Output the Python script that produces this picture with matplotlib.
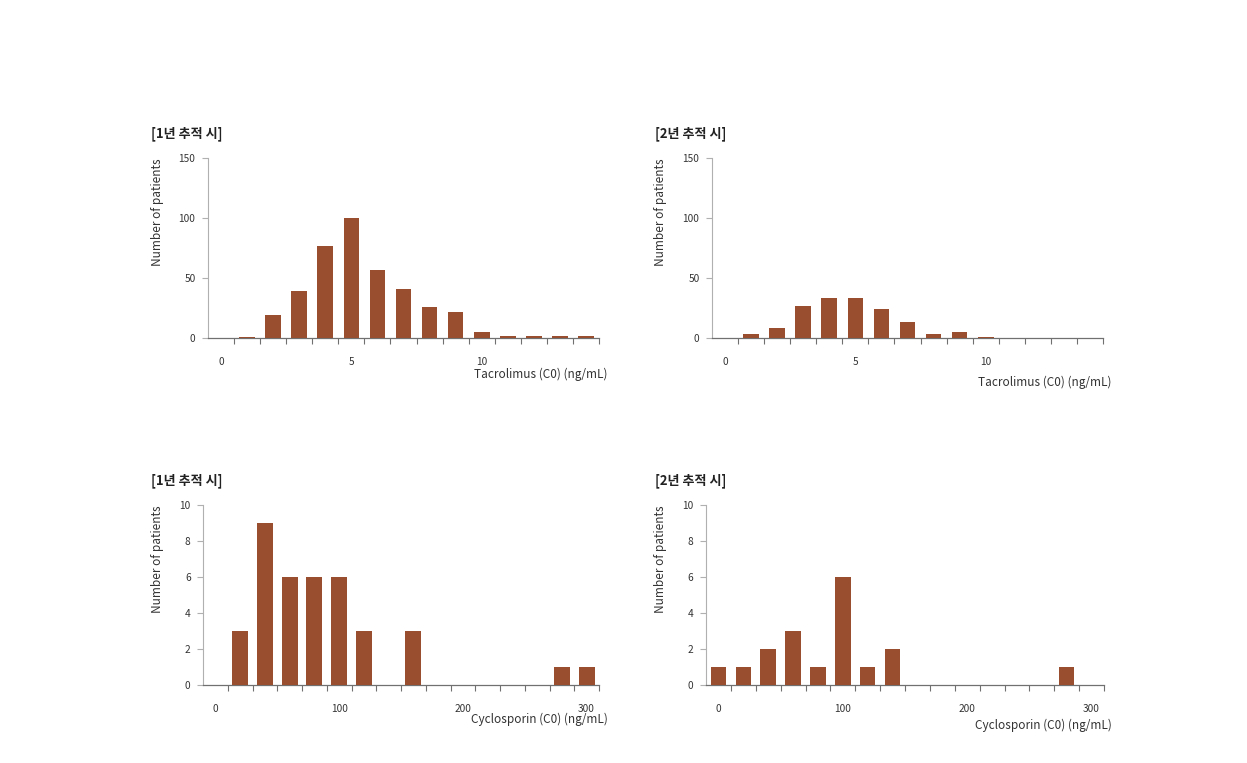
import matplotlib
matplotlib.use("Agg")
import matplotlib.pyplot as plt
from matplotlib.ticker import FixedLocator, NullFormatter

plt.rcParams['font.family'] = ['Noto Sans CJK KR', 'DejaVu Sans']

W, H = 1247, 763

# ---- data ----
tac_categories = list(range(0, 15))          # Tacrolimus C0 (ng/mL)
tac_labels = {0: "0", 5: "5", 10: "10"}
tac_year1 = [0, 1, 19, 39, 77, 100, 57, 41, 26, 22, 5, 2, 2, 2, 2]
tac_year2 = [0, 3, 8, 27, 33, 33, 24, 13, 3, 5, 1, 0, 0, 0, 0]

cyc_categories = list(range(0, 320, 20))     # Cyclosporin C0 (ng/mL)
cyc_labels = {0: "0", 100: "100", 200: "200", 300: "300"}
cyc_year1 = [0, 3, 9, 6, 6, 6, 3, 0, 3, 0, 0, 0, 0, 0, 1, 1]
cyc_year2 = [1, 1, 2, 3, 1, 6, 1, 2, 0, 0, 0, 0, 0, 0, 1, 0]

titles = ["[1년 추적 시]", "[2년 추적 시]"]
ylab = "Number of patients"
tac_xlab = "Tacrolimus (C0) (ng/mL)"
cyc_xlab = "Cyclosporin (C0) (ng/mL)"

BAR = "#994E2F"
AXY = "#b0b0b0"
AXX = "#707070"
TXT = "#333333"

fig = plt.figure(figsize=(W / 100, H / 100), dpi=100)
fig.patch.set_facecolor("white")


def px_axes(x0, x1, ytop, ybot):
    return fig.add_axes([x0 / W, 1 - ybot / H, (x1 - x0) / W, (ybot - ytop) / H])


def panel(rect, cats, labels, vals, ymax, ystep, title, title_xy, xlab, xlab_xy, ylab_xy, bw):
    ax = px_axes(*rect)
    n = len(cats)
    pos = list(range(n))
    ax.bar(pos, vals, width=bw, color=BAR, edgecolor="none", zorder=3)
    ax.set_xlim(-0.5, n - 0.5)
    ax.set_ylim(0, ymax)
    for s in ["top", "right"]:
        ax.spines[s].set_visible(False)
    ax.spines["left"].set_color(AXY)
    ax.spines["left"].set_linewidth(0.8)
    ax.spines["bottom"].set_color(AXX)
    ax.spines["bottom"].set_linewidth(0.9)
    ax.set_yticks(list(range(0, ymax + 1, ystep)))
    ax.tick_params(axis="y", direction="out", length=4, width=0.8, color=AXY,
                   labelsize=7.3, labelcolor=TXT, pad=5)
    # labelled categories
    lab_pos = [i for i, c in enumerate(cats) if c in labels]
    ax.set_xticks(lab_pos)
    ax.set_xticklabels([labels[cats[i]] for i in lab_pos])
    ax.tick_params(axis="x", which="major", length=0, labelsize=7.3, labelcolor=TXT, pad=14)
    # tick marks between categories
    ax.xaxis.set_minor_locator(FixedLocator([i + 0.5 for i in range(n)]))
    ax.xaxis.set_minor_formatter(NullFormatter())
    ax.tick_params(axis="x", which="minor", direction="out", length=4, width=0.8, color=AXX)
    fig.text(title_xy[0] / W, 1 - title_xy[1] / H, title, fontsize=9.4, fontweight="bold",
             color="#222222", ha="left", va="center")
    fig.text(xlab_xy[0] / W, 1 - xlab_xy[1] / H, xlab, fontsize=8.5, color=TXT,
             ha="right", va="center")
    fig.text(ylab_xy[0] / W, 1 - ylab_xy[1] / H, ylab, fontsize=8.5, color=TXT,
             rotation=90, ha="center", va="top")
    return ax


panel((208, 599, 158, 338), tac_categories, tac_labels, tac_year1, 150, 50,
      titles[0], (151, 134), tac_xlab, (608, 374), (157, 158), 0.6)
panel((712, 1103, 158, 338), tac_categories, tac_labels, tac_year2, 150, 50,
      titles[1], (655, 134), tac_xlab, (1111, 382), (660, 158), 0.6)
panel((203, 599, 505, 685), cyc_categories, cyc_labels, cyc_year1, 10, 2,
      titles[0], (151, 481), cyc_xlab, (608, 719), (157, 505), 0.64)
panel((706, 1104, 505, 685), cyc_categories, cyc_labels, cyc_year2, 10, 2,
      titles[1], (655, 481), cyc_xlab, (1112, 725), (660, 505), 0.62)

fig.savefig("out.png", dpi=100)
